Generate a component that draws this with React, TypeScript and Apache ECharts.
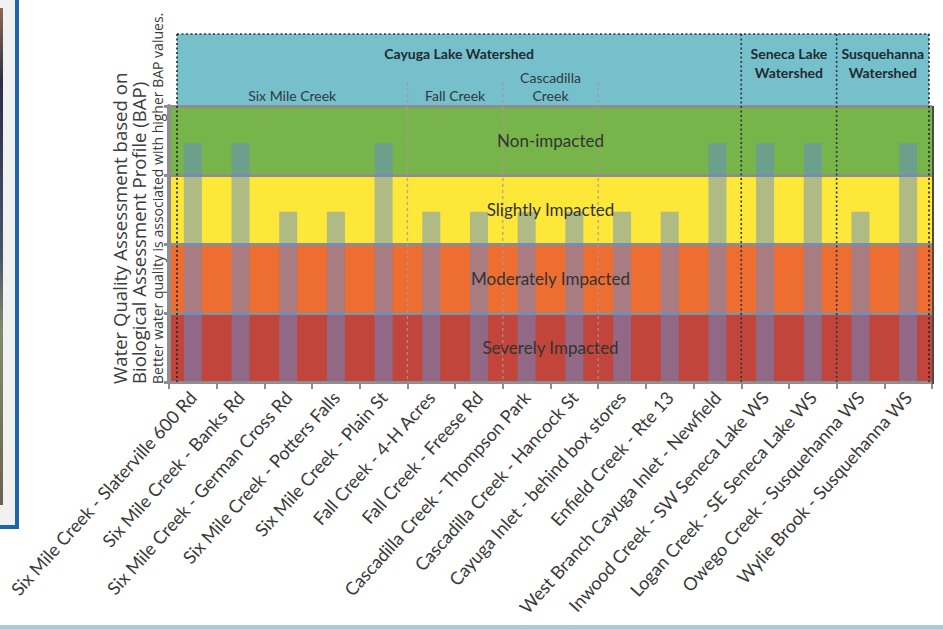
import React, { useEffect, useRef } from "react";
import * as echarts from "echarts";

// ---- data ----
const categories = [
  "Six Mile Creek - Slaterville 600 Rd",
  "Six Mile Creek - Banks Rd",
  "Six Mile Creek - German Cross Rd",
  "Six Mile Creek - Potters Falls",
  "Six Mile Creek - Plain St",
  "Fall Creek - 4-H Acres",
  "Fall Creek - Freese Rd",
  "Cascadilla Creek - Thompson Park",
  "Cascadilla Creek - Hancock St",
  "Cayuga Inlet - behind box stores",
  "Enfield Creek - Rte 13",
  "West Branch Cayuga Inlet - Newfield",
  "Inwood Creek - SW Seneca Lake WS",
  "Logan Creek - SE Seneca Lake WS",
  "Owego Creek - Susquehanna WS",
  "Wylie Brook - Susquehanna WS",
];
const bapValues = [8.65, 8.65, 6.17, 6.17, 8.65, 6.17, 6.17, 6.17, 6.17, 6.17, 6.17, 8.65, 8.65, 8.65, 6.17, 8.65];
const bandEdges = [0, 2.5, 5, 7.5, 10];
const bandNames = ["Severely Impacted", "Moderately Impacted", "Slightly Impacted", "Non-impacted"];
const bandColors = ["#C1453A", "#EE6D31", "#FDE83A", "#77B54B"];
const watersheds = [
  { name: "Cayuga Lake Watershed", from: 0, to: 12 },
  { name: "Seneca Lake\nWatershed", from: 12, to: 14 },
  { name: "Susquehanna\nWatershed", from: 14, to: 16 },
];
const creeks = [
  { name: "Six Mile Creek", from: 0, to: 5 },
  { name: "Fall Creek", from: 5, to: 7 },
  { name: "Cascadilla\nCreek", from: 7, to: 9 },
];
const titleLines = [
  "Water Quality Assessment based on",
  "Biological Assessment Profile (BAP)",
  "Better water quality is associated with higher BAP values.",
];

const W = 943;
const H = 629;
const GRID_LEFT = 169;
const GRID_RIGHT_X = 932;
const GRID_TOP = 106;
const GRID_BOTTOM_Y = 382;
const HEADER_TOP = 34;
const HEADER_LEFT = 177;
const HEADER_RIGHT = 929;

export default function App() {
  const ref = useRef<HTMLDivElement>(null);
  useEffect(() => {
    if (!ref.current) return;
    const chart = echarts.init(ref.current, undefined, { renderer: "svg" });
    const catW = (GRID_RIGHT_X - GRID_LEFT) / categories.length;
    const bx = (i: number) => GRID_LEFT + i * catW;
    const edgeX = (i: number) => (i === 0 ? HEADER_LEFT : i === categories.length ? HEADER_RIGHT : bx(i));

    const graphics: any[] = [];
    // left panel fragment
    graphics.push({
      type: "rect",
      shape: { x: -6, y: -6, width: 23, height: 533 },
      style: { fill: "#F1F1F1", stroke: "#1D66AC", lineWidth: 4 },
    });
    graphics.push({
      type: "rect",
      shape: { x: 0, y: 8, width: 3, height: 497 },
      style: {
        fill: new echarts.graphic.LinearGradient(0, 0, 0, 1, [
          { offset: 0, color: "#8A6A50" },
          { offset: 0.15, color: "#2A2F45" },
          { offset: 0.5, color: "#4A5568" },
          { offset: 0.65, color: "#7E8C6A" },
          { offset: 1, color: "#6B6150" },
        ]),
      },
    });
    // bottom blue line
    graphics.push({
      type: "rect",
      shape: { x: 0, y: 625, width: W, height: 4 },
      style: { fill: "#A9CADF" },
    });
    // header
    graphics.push({
      type: "rect",
      shape: { x: HEADER_LEFT, y: HEADER_TOP, width: HEADER_RIGHT - HEADER_LEFT, height: GRID_TOP - HEADER_TOP },
      style: { fill: "#76C0CB" },
      z: 0,
    });
    const dotted = (x1: number, y1: number, x2: number, y2: number, color: string) => ({
      type: "line",
      shape: { x1, y1, x2, y2 },
      style: { stroke: color, lineWidth: 1.6, lineDash: [2, 2.5] },
      z: 10,
    });
    graphics.push(dotted(HEADER_LEFT, HEADER_TOP, HEADER_RIGHT, HEADER_TOP, "#333"));
    graphics.push(dotted(HEADER_LEFT, HEADER_TOP, HEADER_LEFT, GRID_BOTTOM_Y, "#222"));
    graphics.push(dotted(HEADER_RIGHT, HEADER_TOP, HEADER_RIGHT, GRID_BOTTOM_Y, "#222"));
    graphics.push({
      type: "line",
      shape: { x1: GRID_RIGHT_X + 1, y1: GRID_TOP, x2: GRID_RIGHT_X + 1, y2: GRID_BOTTOM_Y + 2 },
      style: { stroke: "#4A4A4A", lineWidth: 2 },
      z: 9,
    });
    watersheds.forEach((w, i) => {
      if (i > 0) graphics.push(dotted(bx(w.from), HEADER_TOP, bx(w.from), GRID_BOTTOM_Y, "#2A3440"));
      graphics.push({
        type: "text",
        x: (edgeX(w.from) + edgeX(w.to)) / 2,
        y: 44,
        style: {
          text: w.name,
          align: "center",
          verticalAlign: "top",
          fontFamily: "Lato",
          fontWeight: "bold",
          fontSize: 14,
          lineHeight: 19,
          fill: "#1E2B33",
        },
        z: 11,
      });
    });
    creeks.forEach((c) => {
      graphics.push({
        type: "line",
        shape: { x1: bx(c.to), y1: 82, x2: bx(c.to), y2: GRID_BOTTOM_Y },
        style: { stroke: "rgba(170,150,150,0.85)", lineWidth: 1.3, lineDash: [3, 3] },
        z: 10,
      });
      graphics.push({
        type: "text",
        x: (edgeX(c.from) + edgeX(c.to)) / 2,
        y: 104,
        style: {
          text: c.name,
          align: "center",
          verticalAlign: "bottom",
          fontFamily: "Lato",
          fontSize: 14,
          lineHeight: 18,
          fill: "#2E3A40",
        },
        z: 11,
      });
    });
    // y axis title
    const titleX = [119, 138, 157];
    const titleSize = [18.6, 18.6, 14];
    titleLines.forEach((t, i) => {
      graphics.push({
        type: "text",
        x: titleX[i],
        y: 384,
        rotation: Math.PI / 2,
        style: {
          text: t,
          align: "left",
          verticalAlign: "middle",
          fontFamily: "Open Sans",
          fontSize: titleSize[i],
          fill: "#3C3C3C",
        },
      });
    });

    chart.setOption({
      animation: false,
      backgroundColor: "#ffffff",
      grid: {
        left: GRID_LEFT,
        right: W - GRID_RIGHT_X,
        top: GRID_TOP,
        bottom: H - GRID_BOTTOM_Y,
      },
      xAxis: {
        type: "category",
        data: categories,
        boundaryGap: true,
        axisLine: { show: true, lineStyle: { color: "#8E8E8E", width: 3 } },
        axisTick: { show: true, length: 7, lineStyle: { color: "#8E8E8E", width: 2 } },
        axisLabel: {
          interval: 0,
          rotate: 48,
          margin: 12,
          fontFamily: "Lato",
          fontSize: 18,
          color: "#3A3A3A",
        },
        z: 5,
      },
      yAxis: {
        type: "value",
        min: 0,
        max: 10,
        interval: 2.5,
        axisLine: { show: true, lineStyle: { color: "#8E8E8E", width: 4 } },
        axisTick: { show: true, length: 5, lineStyle: { color: "#8E8E8E", width: 3 } },
        axisLabel: { show: false },
        splitLine: { show: true, lineStyle: { color: "#8E8E8E", width: 3 } },
        splitArea: { show: true, areaStyle: { color: bandColors, opacity: 1 } },
      },
      series: [
        {
          type: "bar",
          data: bapValues,
          barWidth: 18,
          itemStyle: { color: "rgba(98,140,208,0.5)" },
        },
      ],
      graphic: graphics,
    });

    // band labels, placed through the value axis scale, drawn above the bars
    const midX = (GRID_LEFT + GRID_RIGHT_X) / 2;
    bandNames.forEach((n, i) => {
      const mid = (bandEdges[i] + bandEdges[i + 1]) / 2;
      const y = chart.convertToPixel({ yAxisIndex: 0 }, mid) as number;
      graphics.push({
        type: "text",
        x: midX,
        y,
        style: {
          text: n,
          align: "center",
          verticalAlign: "middle",
          fontFamily: "Lato",
          fontSize: 17,
          fill: "#333333",
        },
        z: 12,
      });
    });
    chart.setOption({ graphic: graphics });
    return () => chart.dispose();
  }, []);
  return (
    <div
      ref={ref}
      style={{ position: "fixed", left: 0, top: 0, width: W, height: H, background: "#fff" }}
    />
  );
}
